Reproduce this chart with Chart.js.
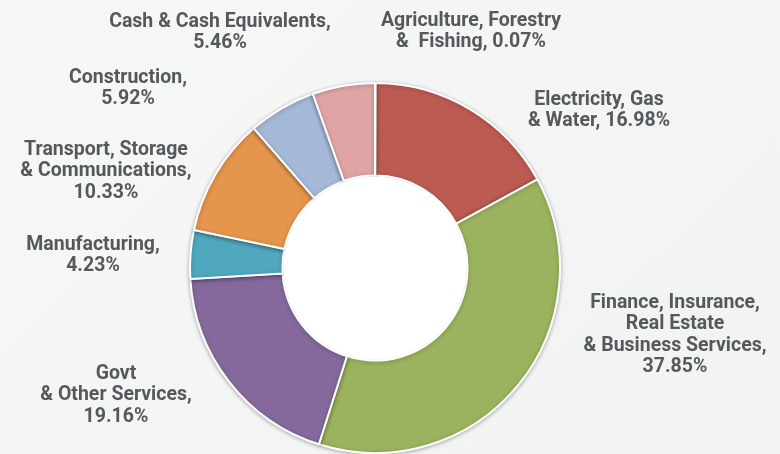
<!DOCTYPE html>
<html>
<head>
<meta charset="utf-8">
<script src="https://cdn.jsdelivr.net/npm/chart.js@4.4.0/dist/chart.umd.min.js"></script>
<style>
  html, body { margin: 0; padding: 0; }
  body { width: 780px; height: 454px; background: linear-gradient(135deg, #f7f7f7 0%, #f1f2f2 100%); }
  #wrap { position: relative; width: 780px; height: 454px; }
</style>
</head>
<body>
<div id="wrap"><canvas id="myChart" width="780" height="454"></canvas></div>
<script>
// sectors, clockwise from 12 o'clock
const sectors = [
    'Agriculture, Forestry & Fishing',
    'Electricity, Gas & Water',
    'Finance, Insurance, Real Estate & Business Services',
    'Govt & Other Services',
    'Manufacturing',
    'Transport, Storage & Communications',
    'Construction',
    'Cash & Cash Equivalents'
];
const shares = [0.07, 16.98, 37.85, 19.16, 4.23, 10.33, 5.92, 5.46];

// how each label is broken onto lines (value appended on the last line)
const labelLines = [
    ['Agriculture, Forestry', '&  Fishing, '],
    ['Electricity, Gas', '& Water, '],
    ['Finance, Insurance,', 'Real Estate', '& Business Services,', ''],
    ['Govt', '& Other Services,', ''],
    ['Manufacturing,', ''],
    ['Transport, Storage', '& Communications,', ''],
    ['Construction,', ''],
    ['Cash & Cash Equivalents,', '']
];

const colors = ['#8c8c8c', '#bc5b52', '#9bb35e', '#85699d', '#4fa8be', '#e5954c', '#a4b8d8', '#dea5a4'];

// label placement: centre x and first line y
const labelLayout = [
    [471, 21], [599, 100], [675, 303], [116, 374],
    [93, 245], [106, 150], [128, 78], [220, 22]
];

const labelPlugin = {
    id: 'outerLabels',
    beforeDatasetsDraw(chart) {
        const ctx = chart.ctx;
        ctx.save();
        ctx.shadowColor = 'rgba(0,0,0,0.28)';
        ctx.shadowBlur = 4;
        ctx.shadowOffsetX = 0;
        ctx.shadowOffsetY = 1;
    },
    afterDatasetsDraw(chart) {
        const ctx = chart.ctx;
        ctx.restore();
        const arc = chart.getDatasetMeta(0).data[0];
        // white hole
        ctx.save();
        ctx.beginPath();
        ctx.arc(arc.x, arc.y, arc.innerRadius - 1, 0, Math.PI * 2);
        ctx.fillStyle = '#ffffff';
        ctx.fill();
        ctx.restore();

        ctx.save();
        ctx.font = 'bold 19.5px Roboto';
        ctx.fillStyle = '#55595c';
        ctx.textAlign = 'center';
        ctx.textBaseline = 'middle';
        labelLines.forEach((lines, i) => {
            const [x, y] = labelLayout[i];
            lines.forEach((ln, j) => {
                let txt = ln;
                if (j === lines.length - 1) txt = ln + shares[i].toFixed(2) + '%';
                ctx.fillText(txt, x, y + j * 21.5);
            });
        });
        ctx.restore();
    }
};

const ctx = document.getElementById('myChart').getContext('2d');
const chart = new Chart(ctx, {
    type: 'doughnut',
    data: {
        labels: sectors,
        datasets: [{
            data: shares,
            backgroundColor: colors,
            borderColor: '#ffffff',
            borderWidth: 2
        }]
    },
    options: {
        responsive: false,
        animation: false,
        cutout: '50%',
        layout: { padding: { top: 82, bottom: 0, left: 0, right: 30 } },
        plugins: {
            legend: { display: false },
            tooltip: { enabled: false }
        }
    },
    plugins: [labelPlugin]
});
</script>
</body>
</html>
